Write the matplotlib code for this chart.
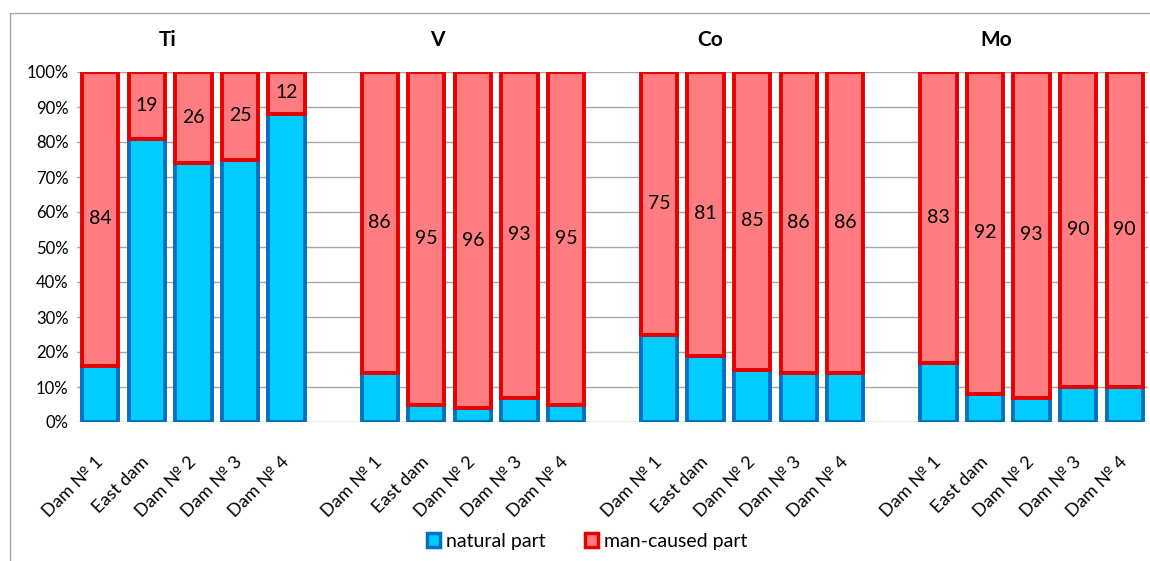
import numpy as np
import matplotlib.pyplot as plt
from matplotlib.patches import Rectangle, Patch
from matplotlib.transforms import blended_transform_factory

plt.rcParams['font.family'] = ['Lato', 'DejaVu Sans']

# data
elements = ['Ti', 'V', 'Co', 'Mo']
sites = ['Dam № 1', 'East dam', 'Dam № 2', 'Dam № 3', 'Dam № 4']
natural_ti = [16, 81, 74, 75, 88]
natural_v = [14, 5, 4, 7, 5]
natural_co = [25, 19, 15, 14, 14]
natural_mo = [17, 8, 7, 10, 10]
man_ti = [84, 19, 26, 25, 12]
man_v = [86, 95, 96, 93, 95]
man_co = [75, 81, 85, 86, 86]
man_mo = [83, 92, 93, 90, 90]

natural = [natural_ti, natural_v, natural_co, natural_mo]
man = [man_ti, man_v, man_co, man_mo]

blue_fill, blue_edge = '#00CCFF', '#0070C0'
red_fill, red_edge = '#FF7C80', '#E60000'

fig = plt.figure(figsize=(11.5, 5.61), dpi=100)
ax = fig.add_axes([77 / 1150, 1 - 422 / 561, (1148 - 77) / 1150, 350 / 561])

# chart frame (only top and left visible)
fig.patches.append(Rectangle((10 / 1150, -0.1), 1.2, 1 - 13 / 561 + 0.1,
                             transform=fig.transFigure, fill=False,
                             edgecolor='#A6A6A6', linewidth=1, zorder=0))

width = 0.78
xs_all = []
labels_all = []
for g in range(len(elements)):
    xs = np.arange(len(sites)) + g * (len(sites) + 1)
    ax.bar(xs, natural[g], width, color=blue_fill, edgecolor=blue_edge,
           linewidth=2.8, zorder=3)
    ax.bar(xs, man[g], width, bottom=natural[g], color=red_fill,
           edgecolor=red_edge, linewidth=2.8, zorder=4)
    for x, b, v in zip(xs, natural[g], man[g]):
        ax.text(x, b + v / 2, str(v), ha='center', va='center',
                fontsize=14, zorder=5)
    xs_all.extend(xs)
    labels_all.extend(sites)

# element titles
trans = blended_transform_factory(ax.transData, ax.transAxes)
title_x = [1.44, 7.23, 13.09, 19.25]
for tx, name in zip(title_x, elements):
    ax.text(tx, 1.09, name, transform=trans, ha='center', va='center',
            fontsize=15, fontweight='bold')

ax.set_xlim(-0.5, 22.5)
ax.set_ylim(0, 100)
ax.set_yticks(np.arange(0, 101, 10))
ax.set_yticklabels([f'{v}%' for v in range(0, 101, 10)], fontsize=12)
ax.set_xticks(xs_all)
ax.set_xticklabels(labels_all, rotation=45, ha='right', va='center',
                   rotation_mode='anchor', fontsize=13)
ax.tick_params(axis='x', length=0, pad=27)
ax.tick_params(axis='y', length=0, pad=6)
for s in ax.spines.values():
    s.set_visible(False)
ax.yaxis.grid(True, color='#A6A6A6', linewidth=1)
ax.set_axisbelow(True)

handles = [Patch(facecolor=blue_fill, edgecolor=blue_edge, linewidth=2.5),
           Patch(facecolor=red_fill, edgecolor=red_edge, linewidth=2.5)]
fig.legend(handles, ['natural part', 'man-caused part'], loc='center',
           bbox_to_anchor=(587 / 1150, 1 - 541 / 561), ncol=2, frameon=False,
           fontsize=14, handlelength=0.7, handleheight=0.7, handletextpad=0.3,
           columnspacing=2.0)

fig.savefig('out.png', dpi=100)
